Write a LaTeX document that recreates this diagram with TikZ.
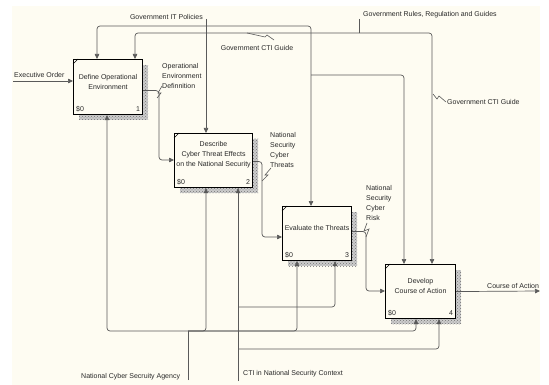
\documentclass[tikz,border=0pt]{standalone}
\usepackage{fontspec}
\setmainfont{Liberation Sans}
\usetikzlibrary{arrows.meta,patterns}
\definecolor{bg}{RGB}{254,252,242}
\definecolor{ln}{RGB}{90,90,90}
\definecolor{tx}{RGB}{40,40,40}
\begin{document}
\begin{tikzpicture}[x=1pt,y=-1pt,
  every node/.style={font=\fontsize{7}{10}\selectfont, text=tx, inner sep=0pt},
  ln/.style={draw=ln, line width=0.7pt, rounded corners=3pt},
  arr/.style={ln, -{Triangle[length=5pt,width=4.5pt]}},
  sq/.style={draw=ln, line width=0.6pt},
  box/.style={draw=black, line width=1.1pt, fill=bg, anchor=north west},
  shadowfill/.style={fill=gray!40},
  shadow/.style={pattern=crosshatch dots, pattern color=gray!90!black},
  inner/.style={align=center, yshift=5.5pt},
  lbl/.style={align=left, anchor=north west}]

\useasboundingbox (0,0) rectangle (549,385);
\fill[white] (0,0) rectangle (549,385);
\fill[bg] (12,6) rectangle (540,385);

% shadows
\foreach \a/\b/\c/\d in {79/65/148/120, 180/139/258/193, 288/212/357/266, 391/270/461/324}{
  \fill[shadowfill] (\a,\b) rectangle (\c,\d);
  \fill[shadow] (\a,\b) rectangle (\c,\d);
}

% boxes
\node[box, minimum width=69pt, minimum height=55pt,
  label={[inner]center:Define Operational\\Environment},
  label={[anchor=base west, xshift=3pt, yshift=4pt]south west:\$0},
  label={[anchor=base east, xshift=-3pt, yshift=4pt]south east:1}] (b1) at (73,59) {};
\node[box, minimum width=78pt, minimum height=54pt,
  label={[inner]center:Describe\\Cyber Threat Effects\\on the National Security},
  label={[anchor=base west, xshift=3pt, yshift=4pt]south west:\$0},
  label={[anchor=base east, xshift=-3pt, yshift=4pt]south east:2}] (b2) at (174,133) {};
\node[box, minimum width=69pt, minimum height=54pt,
  label={[inner]center:Evaluate the Threats},
  label={[anchor=base west, xshift=3pt, yshift=4pt]south west:\$0},
  label={[anchor=base east, xshift=-3pt, yshift=4pt]south east:3}] (b3) at (282,206) {};
\node[box, minimum width=70pt, minimum height=54pt,
  label={[inner]center:Develop\\Course of Action},
  label={[anchor=base west, xshift=3pt, yshift=4pt]south west:\$0},
  label={[anchor=base east, xshift=-3pt, yshift=4pt]south east:4}] (b4) at (385,264) {};

% corner ticks
\foreach \b in {b1,b2,b3,b4}
  \draw[black, line width=0.6pt] (\b.north west) ++(0,5) -- ++(5,-5);

% free ends and junctions
\coordinate (inExec) at (13,81);
\coordinate (inIT) at (206,19);
\coordinate (jIT) at (206,26);
\coordinate (jIT2) at (311,75);
\coordinate (inRules) at (359,19);
\coordinate (jR) at (359,33);
\coordinate (inNCSA) at (188,380);
\coordinate (jN) at (188,331);
\coordinate (inCTI) at (238,381);
\coordinate (jC1) at (238,307);
\coordinate (jC2) at (238,349);
\coordinate (outCoA) at (540,291);
\coordinate (t2) at (159,160);
\coordinate (t3) at (262,237);
\coordinate (t4) at (366,291);

% inputs / outputs
\draw[arr] (inExec) -- (inExec -| b1.west);
\draw[arr] ([yshift=-3.5pt]b1.east) -| (t2) -- (t2 -| b2.west);
\draw[arr] ([yshift=-1pt]b2.east) -| (t3) -- (t3 -| b3.west);
\draw[arr] ([yshift=2pt]b3.east) -| (t4) -- (t4 -| b4.west);
\draw[arr] (b4.east) -- (outCoA);

% controls
\draw[arr] (inIT) -- (inIT |- b2.north);
\draw[arr] (jIT) -- (97,26) -- (97,0 |- b1.north);
\draw[arr] (jIT) -- (311,26) -- (311,0 |- b3.north);
\draw[arr] (jIT2) -- (404,75) -- (404,0 |- b4.north);
\draw[ln] (inRules) -- (jR);
\draw[arr] (jR) -- (135,33) -- (135,0 |- b1.north);
\draw[arr] (jR) -- (432,33) -- (432,0 |- b4.north);

% mechanisms
\draw[ln] (inNCSA) -- (jN);
\draw[arr] (jN) -- (107,331) -- (107,0 |- b1.south);
\draw[arr] (jN) -- (206,331) -- (206,0 |- b2.south);
\draw[arr] (jN) -- (297,331) -- (297,0 |- b3.south);
\draw[arr] (jN) -- (416,331) -- (416,0 |- b4.south);
\draw[arr] (inCTI) -- (inCTI |- b2.south);
\draw[arr] (jC1) -- (335,307) -- (335,0 |- b3.south);
\draw[arr] (jC2) -- (439,349) -- (439,0 |- b4.south);

% squiggles
\draw[sq] (247,33) -- (265,37) -- (267,35) -- (274,40);
\draw[sq] (433,94) -- (437,99) -- (439,96) -- (446,102);
\draw[sq] (162,86) -- (158,93) -- (161,93) -- (157,98);
\draw[sq] (271,168) -- (265,175) -- (268,175) -- (262,181);
\draw[sq] (367,223) -- (364,231) -- (369,229) -- (366,237);

% labels
\node[anchor=west] (lExec) at (14,75) {Executive Order};
\node[anchor=east] (lIT) at (203,17) {Government IT Policies};
\node (lCTI1) at (257,48) {Government CTI Guide};
\node[anchor=west] (lRules) at (363,15) {Government Rules, Regulation and Guides};
\node[anchor=west] (lCTI2) at (447,102) {Government CTI Guide};
\node[lbl] (lOED) at (162,63) {Operational\\Environment\\Definnition};
\node[lbl] (lNST) at (270,132) {National\\Security\\Cyber\\Threats};
\node[lbl] (lNSR) at (366,185) {National\\Security\\Cyber\\Risk};
\node[anchor=west] (lCoA) at (487,286) {Course of Action};
\node[anchor=west] (lNCSA) at (81,377) {National Cyber Secruity Agency};
\node[anchor=west] (lCTIc) at (243,374) {CTI in National Security Context};
\end{tikzpicture}
\end{document}
